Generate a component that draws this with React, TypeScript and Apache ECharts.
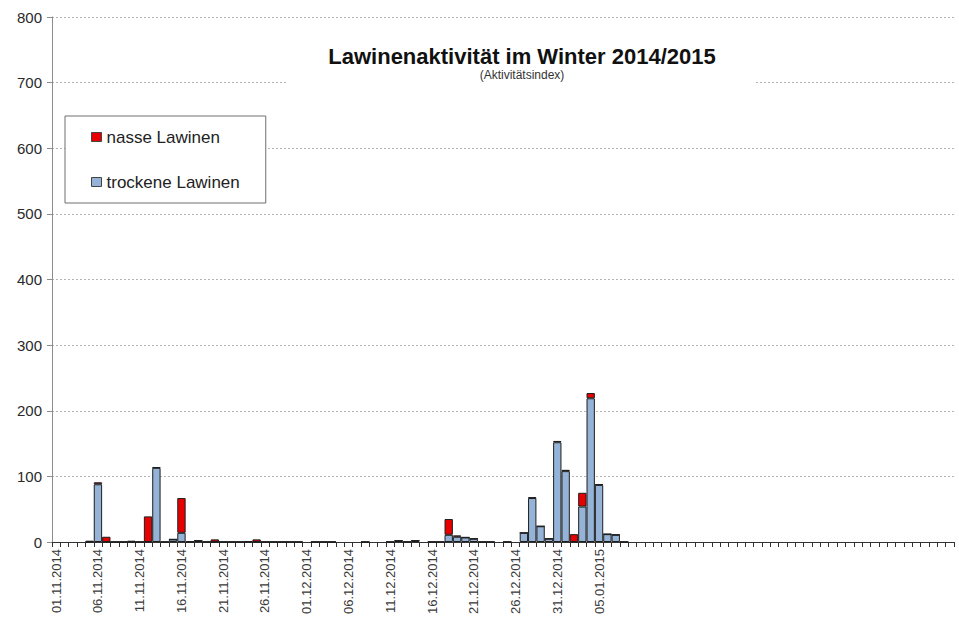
import { useEffect, useRef } from 'react';
import * as echarts from 'echarts';

// ---- categories: one per day starting 01.11.2014 ----
const START_DATE = '2014-11-01';
const DAY_COUNT = 108;
const LAST_LABEL_INDEX = 65; // labels shown up to 05.01.2015

function buildDays(start: string, count: number): string[] {
  const out: string[] = [];
  const [y, m, d] = start.split('-').map(Number);
  for (let i = 0; i < count; i++) {
    const dt = new Date(Date.UTC(y, m - 1, d + i));
    const dd = String(dt.getUTCDate()).padStart(2, '0');
    const mm = String(dt.getUTCMonth() + 1).padStart(2, '0');
    out.push(`${dd}.${mm}.${dt.getUTCFullYear()}`);
  }
  return out;
}
const categories = buildDays(START_DATE, DAY_COUNT);

// ---- series values (Aktivitätsindex), index 0 = 01.11.2014 ----
const trockene: (number | null)[] = [
  null, null, null, null, 0, 88, 0,          // 01.11 - 07.11
  0, 0, 0, 0, 0, 113, 0,                     // 08.11 - 14.11
  4, 14, 0, 2, 0, 0, 0,                      // 15.11 - 21.11
  0, 0, 0, 0, 0, 0, 0,                       // 22.11 - 28.11
  0, 0, null, 0, 0, 0, null,                 // 29.11 - 05.12
  null, null, 0, null, null, 0, 2,           // 06.12 - 12.12
  0, 2, null, 0, 0, 11, 8,                   // 13.12 - 19.12
  7, 5, 0, 0, null, 0, null,                 // 20.12 - 26.12
  14, 67, 24, 5, 152, 108, 0,                // 27.12 - 02.01
  54, 219, 87, 12, 11, 0,                    // 03.01 - 08.01
];

const nasse: (number | null)[] = [
  null, null, null, null, 2, 3, 8,           // 01.11 - 07.11
  0, 0, 2, 0, 39, 1, 0,                      // 08.11 - 14.11
  0, 53, 1, 0, 0, 4, 0,                      // 15.11 - 21.11
  0, 0, 1, 4, 0, 0, 0,                       // 22.11 - 28.11
  0, 0, null, 0, 0, 0, null,                 // 29.11 - 05.12
  null, null, 0, null, null, 0, 0,           // 06.12 - 12.12
  0, 0, null, 0, 0, 24, 2,                   // 13.12 - 19.12
  0, 0, 0, 0, null, 0, null,                 // 20.12 - 26.12
  0, 1, 0, 0, 2, 2, 12,                      // 27.12 - 02.01
  21, 8, 1, 0, 0, 0,                         // 03.01 - 08.01
];

const Y_MIN = 0;
const Y_MAX = 800;
const Y_INTERVAL = 100;

const TITLE = 'Lawinenaktivität im Winter 2014/2015';
const SUBTITLE = '(Aktivitätsindex)';
const NAME_WET = 'nasse Lawinen';
const NAME_DRY = 'trockene Lawinen';

const FONT = '"Liberation Sans", Arial, sans-serif';

export default function App() {
  const ref = useRef<HTMLDivElement>(null);

  useEffect(() => {
    if (!ref.current) return;
    const chart = echarts.init(ref.current, undefined, { renderer: 'svg' });
    const border = '#1e1e1e';
    chart.setOption({
      animation: false,
      backgroundColor: '#ffffff',
      textStyle: { fontFamily: FONT },
      grid: {
        left: 52,
        right: 5,
        top: 17,
        bottom: 78,
        containLabel: false,
        outerBoundsMode: 'none',
      },
      legend: {
        data: [NAME_WET, NAME_DRY],
        orient: 'vertical',
        left: 65,
        top: 116,
        padding: [11, 26, 11, 26],
        itemGap: 25,
        itemWidth: 10,
        itemHeight: 9,
        icon: 'rect',
        backgroundColor: '#ffffff',
        borderColor: '#6e6e6e',
        borderWidth: 1,
        itemStyle: { borderColor: '#444', borderWidth: 1 },
        textStyle: { fontSize: 17, lineHeight: 20, color: '#222', fontFamily: FONT },
        z: 10,
      },
      xAxis: {
        type: 'category',
        data: categories,
        boundaryGap: true,
        axisLine: { show: true, lineStyle: { color: '#333', width: 1 } },
        axisTick: {
          show: true,
          interval: 0,
          length: 5,
          alignWithLabel: false,
          lineStyle: { color: '#333', width: 1 },
        },
        axisLabel: {
          interval: 4,
          rotate: 90,
          margin: 7,
          fontSize: 13,
          color: '#3a3a3a',
          fontFamily: FONT,
          formatter: (v: string, i: number) => (i <= LAST_LABEL_INDEX ? v : ''),
        },
        splitLine: { show: false },
      },
      yAxis: {
        type: 'value',
        min: Y_MIN,
        max: Y_MAX,
        interval: Y_INTERVAL,
        axisLine: { show: true, lineStyle: { color: '#8c8c8c', width: 1 } },
        axisTick: { show: true, length: 5, lineStyle: { color: '#8c8c8c' } },
        axisLabel: { fontSize: 15, margin: 10, color: '#2a2a2a', fontFamily: FONT },
        splitLine: { show: true, lineStyle: { color: '#b4b4b4', type: [2, 2], width: 1 } },
      },
      graphic: [
        {
          type: 'rect',
          z: 5,
          shape: { x: 288, y: 36, width: 468, height: 58 },
          style: { fill: '#ffffff' },
        },
        {
          type: 'text',
          z: 6,
          x: 522,
          y: 56,
          style: {
            text: TITLE,
            fill: '#111',
            font: `bold 22px ${FONT}`,
            align: 'center',
            verticalAlign: 'middle',
          },
        },
        {
          type: 'text',
          z: 6,
          x: 522,
          y: 75,
          style: {
            text: SUBTITLE,
            fill: '#333',
            font: `12px ${FONT}`,
            align: 'center',
            verticalAlign: 'middle',
          },
        },
      ],
      series: [
        {
          name: NAME_DRY,
          type: 'bar',
          stack: 'total',
          data: trockene,
          barCategoryGap: '0%',
          itemStyle: { color: '#95B3D7', borderColor: border, borderWidth: 1 },
        },
        {
          name: NAME_WET,
          type: 'bar',
          stack: 'total',
          data: nasse,
          barCategoryGap: '0%',
          itemStyle: { color: '#E60000', borderColor: border, borderWidth: 1 },
        },
      ],
    });
    return () => chart.dispose();
  }, []);

  return (
    <div
      ref={ref}
      style={{ position: 'absolute', left: 0, top: 0, width: 959, height: 620 }}
    />
  );
}
